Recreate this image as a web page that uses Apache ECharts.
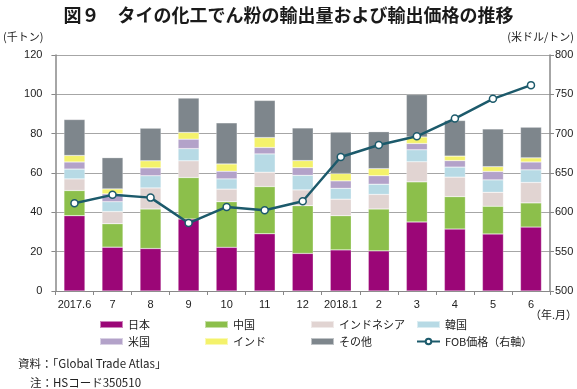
<!DOCTYPE html>
<html>
<head>
<meta charset="utf-8">
<script src="https://cdn.jsdelivr.net/npm/echarts@6/dist/echarts.min.js"></script>
<style>
html,body{margin:0;padding:0;background:#fff;}
#chart{width:577px;height:389px;}
</style>
</head>
<body>
<div id="chart"></div>
<script>
const categories = ['2017.6','7','8','9','10','11','12','2018.1','2','3','4','5','6'];
const japan     = [38.3, 22.3, 21.6, 36.6, 22.2, 29.1, 19.1, 20.9, 20.4, 35.1, 31.5, 29.0, 32.5];
const china     = [12.8, 11.9, 20.1, 21.1, 23.2, 24.0, 24.3, 17.4, 21.3, 20.4, 16.5, 14.1, 12.3];
const indonesia = [ 5.9,  6.2, 10.7,  8.5,  6.4,  7.3,  8.0,  8.4,  7.4, 10.2,  9.9,  7.1, 10.4];
const korea     = [ 5.0,  5.0,  6.2,  6.2,  5.2,  9.3,  7.4,  5.5,  5.2,  6.1,  5.1,  6.3,  6.4];
const usa       = [ 3.6,  4.0,  4.0,  4.8,  3.9,  3.3,  3.9,  3.8,  4.3,  3.2,  3.3,  4.3,  4.0];
const india     = [ 3.3,  2.5,  3.6,  3.4,  3.7,  5.0,  3.6,  3.7,  3.6,  3.3,  2.3,  2.4,  2.1];
const others    = [18.3, 15.9, 16.6, 17.5, 20.9, 18.9, 16.6, 21.1, 18.8, 21.6, 18.1, 19.2, 15.6];
const fobPrice  = [611.6, 622.2, 618.7, 586.4, 606.9, 602.6, 614.1, 670.3, 685.6, 696.6, 719.2, 744.3, 761.7];
const leftTicks = [0, 20, 40, 60, 80, 100, 120];
const rightTicks = [500, 550, 600, 650, 700, 750, 800];

const FONT = '"Liberation Sans", "Noto Sans CJK JP", sans-serif';
const JP = '"Noto Sans CJK JP", "Liberation Sans", sans-serif';

const barDefs = [
  {name:'日本', data:japan, color:'#9b0677'},
  {name:'中国', data:china, color:'#8cbf4b'},
  {name:'インドネシア', data:indonesia, color:'#e1d4d2'},
  {name:'韓国', data:korea, color:'#b7dae5'},
  {name:'米国', data:usa, color:'#b3a2c9'},
  {name:'インド', data:india, color:'#f4f26b'},
  {name:'その他', data:others, color:'#7e868c'}
];
const lineColor = '#1c5a6b';

const series = barDefs.map(d => ({
  name: d.name, type: 'bar', stack: 'vol', data: d.data, barWidth: 21,
  itemStyle: {color: d.color, borderColor: 'rgba(255,255,255,0.5)', borderWidth: 0.5},
  emphasis: {disabled: true}
}));
series.push({
  name: 'FOB価格（右軸）', type: 'line', yAxisIndex: 1, data: fobPrice,
  symbol: 'circle', symbolSize: 7,
  lineStyle: {color: lineColor, width: 2.5},
  itemStyle: {color: '#fff', borderColor: lineColor, borderWidth: 1.5},
  z: 5
});

const legendBase = {
  orient: 'vertical', itemWidth: 23, itemHeight: 7, itemGap: 4,
  textStyle: {fontFamily: JP, fontSize: 11, color: '#222', lineHeight: 13}
};

const chart = echarts.init(document.getElementById('chart'), null, {renderer: 'canvas'});
chart.setOption({
  animation: false,
  backgroundColor: '#fff',
  textStyle: {fontFamily: FONT},
  title: {
    text: '図９　タイの化工でん粉の輸出量および輸出価格の推移',
    left: 'center', top: 1,
    textStyle: {fontFamily: JP, fontSize: 18, fontWeight: 'bold', color: '#1a1a1a'}
  },
  grid: {left: 49, right: 26, top: 55, height: 236, containLabel: false},
  legend: [
    Object.assign({left: 94, top: 313, data: [{name:'日本', icon:'rect'}, {name:'米国', icon:'rect'}]}, legendBase),
    Object.assign({left: 199, top: 313, data: [{name:'中国', icon:'rect'}, {name:'インド', icon:'rect'}]}, legendBase),
    Object.assign({left: 305, top: 313, data: [{name:'インドネシア', icon:'rect'}, {name:'その他', icon:'rect'}]}, legendBase),
    Object.assign({left: 411, top: 313, data: [{name:'韓国', icon:'rect'}, {name:'FOB価格（右軸）'}]}, legendBase)
  ],
  xAxis: {
    type: 'category', data: categories,
    axisLine: {lineStyle: {color: '#888', width: 1}},
    axisTick: {show: true, alignWithLabel: false, length: 4, lineStyle: {color: '#888'}},
    axisLabel: {fontSize: 11, color: '#222', margin: 8, interval: 0}
  },
  yAxis: [
    {
      type: 'value', min: leftTicks[0], max: leftTicks[leftTicks.length-1], interval: 20,
      name: '(千トン)', nameLocation: 'end', nameGap: 18,
      nameTextStyle: {fontFamily: JP, fontSize: 11, color: '#222', align: 'right', verticalAlign: 'middle', padding: [0, 12, 0, 0]},
      axisLine: {show: true, lineStyle: {color: '#888', width: 1.5}},
      axisTick: {show: true, length: 4, lineStyle: {color: '#888'}},
      axisLabel: {fontSize: 11, color: '#222', margin: 13},
      splitLine: {show: true, lineStyle: {color: '#a6a6a6', width: 1.2}}
    },
    {
      type: 'value', min: rightTicks[0], max: rightTicks[rightTicks.length-1], interval: 50,
      name: '(米ドル/トン)', nameLocation: 'end', nameGap: 18,
      nameTextStyle: {fontFamily: JP, fontSize: 11, color: '#222', align: 'right', verticalAlign: 'middle', padding: [0, -24, 0, 0]},
      axisLine: {show: true, lineStyle: {color: '#888', width: 1.5}},
      axisTick: {show: true, length: 4, lineStyle: {color: '#888'}},
      axisLabel: {fontSize: 11, color: '#222', margin: 5},
      splitLine: {show: false}
    }
  ],
  graphic: [
    {type: 'text', right: 0, top: 309, style: {text: '（年.月）', font: '11px ' + JP, fill: '#222'}},
    {type: 'text', left: 18, top: 358, style: {text: '資料：「Global Trade Atlas」', font: '11.5px ' + JP, fill: '#222'}},
    {type: 'text', left: 30, top: 377, style: {text: '注：HSコード350510', font: '11.5px ' + JP, fill: '#222'}}
  ],
  series: series
});
</script>
</body>
</html>
